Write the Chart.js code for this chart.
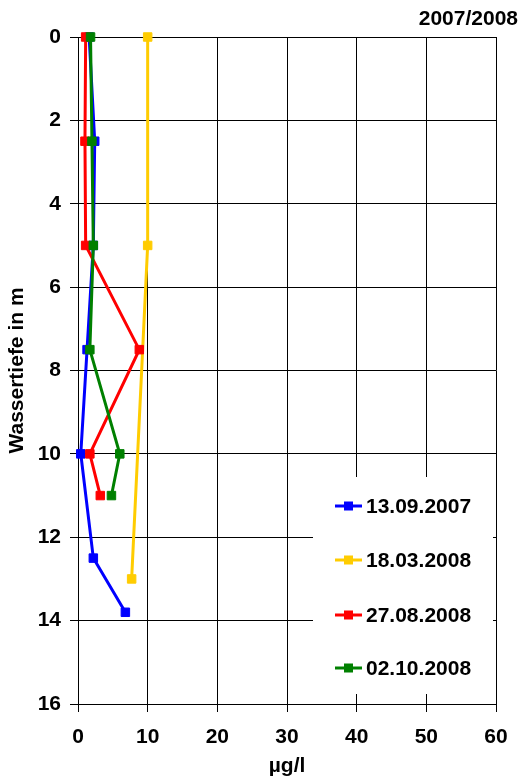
<!DOCTYPE html>
<html>
<head>
<meta charset="utf-8">
<script src="https://cdn.jsdelivr.net/npm/chart.js@4/dist/chart.umd.min.js"></script>
<style>
html,body{margin:0;padding:0;background:#fff;}
canvas{display:block;}
</style>
</head>
<body>
<canvas id="c" width="523" height="783"></canvas>
<script>
const chartTitle = '2007/2008';
const seriesNames = ['13.09.2007', '18.03.2008', '27.08.2008', '02.10.2008'];
const seriesColors = ['#0000FF', '#FFCC00', '#FF0000', '#008000'];
const depthBlue = [0, 2.5, 5, 7.5, 10, 12.5, 13.8];
const valBlue = [1.6, 2.4, 2.2, 1.3, 0.4, 2.2, 6.8];
const depthYellow = [0, 5, 13];
const valYellow = [10, 10, 7.7];
const depthRed = [0, 2.5, 5, 7.5, 10, 11];
const valRed = [1.1, 1.0, 1.1, 8.8, 1.7, 3.2];
const depthGreen = [0, 2.5, 5, 7.5, 10, 11];
const valGreen = [1.8, 2.0, 2.2, 1.7, 6.0, 4.8];
const xTicks = [0, 10, 20, 30, 40, 50, 60];
const yTicks = [0, 2, 4, 6, 8, 10, 12, 14, 16];
const xTitle = 'µg/l';
const yTitle = 'Wassertiefe in m';

const FONT = 'Arial, "Liberation Sans", sans-serif';

function pts(xs, ys) { return xs.map((v, i) => ({x: v, y: ys[i]})); }
const allDepths = [depthBlue, depthYellow, depthRed, depthGreen];
const allVals = [valBlue, valYellow, valRed, valGreen];

const datasets = seriesNames.map((n, i) => ({
  label: n,
  data: pts(allVals[i], allDepths[i]),
  showLine: true,
  clip: false,
  borderColor: seriesColors[i],
  backgroundColor: seriesColors[i],
  borderWidth: 3,
  pointStyle: 'rect',
  pointRadius: 6,
  pointBorderWidth: 1,
  pointBorderColor: seriesColors[i],
  pointBackgroundColor: seriesColors[i],
  order: seriesNames.length - i
}));

const legendPlugin = {
  id: 'customLegend',
  afterDraw(chart) {
    const ctx = chart.ctx;
    ctx.save();
    ctx.fillStyle = '#fff';
    ctx.fillRect(313, 477, 180, 217);
    const ys = [506, 560, 615, 668];
    ctx.font = 'bold 21px ' + FONT;
    ctx.textBaseline = 'middle';
    ctx.textAlign = 'left';
    seriesNames.forEach((n, i) => {
      ctx.strokeStyle = seriesColors[i];
      ctx.lineWidth = 3;
      ctx.beginPath();
      ctx.moveTo(335, ys[i]);
      ctx.lineTo(362, ys[i]);
      ctx.stroke();
      ctx.fillStyle = seriesColors[i];
      ctx.fillRect(344, ys[i] - 4.5, 9, 9);
      ctx.fillStyle = '#000';
      ctx.fillText(n, 366, ys[i] + 1);
    });
    ctx.font = 'bold 21px ' + FONT;
    ctx.textAlign = 'right';
    ctx.fillStyle = '#000';
    ctx.fillText(chartTitle, 518, 19);
    ctx.restore();
  }
};

new Chart(document.getElementById('c'), {
  type: 'scatter',
  data: { datasets },
  options: {
    responsive: false,
    animation: false,
    layout: { padding: { top: 37, right: 27, bottom: 0, left: 0 } },
    plugins: { legend: { display: false }, tooltip: { enabled: false }, title: { display: false } },
    scales: {
      x: {
        type: 'linear', min: 0, max: 60,
        afterBuildTicks: s => { s.ticks = xTicks.map(v => ({value: v})); },
        afterFit: s => { s.height = 79; },
        grid: { color: '#000', lineWidth: 1, tickLength: 8, drawTicks: true },
        border: { color: '#000', width: 1 },
        ticks: { color: '#000', font: { family: FONT, size: 21, weight: 'bold' }, padding: 13, maxRotation: 0 },
        title: { display: true, text: xTitle, color: '#000', font: { family: FONT, size: 21, weight: 'bold' }, padding: { top: 0, bottom: 4 } }
      },
      y: {
        type: 'linear', min: 0, max: 16, reverse: true,
        afterBuildTicks: s => { s.ticks = yTicks.map(v => ({value: v})); },
        afterFit: s => { s.width = 78; },
        grid: { color: '#000', lineWidth: 1, tickLength: 8, drawTicks: true },
        border: { color: '#000', width: 1 },
        ticks: { color: '#000', font: { family: FONT, size: 21, weight: 'bold' }, padding: 9 },
        title: { display: true, text: yTitle, color: '#000', font: { family: FONT, size: 21, weight: 'bold' }, padding: { top: 5, bottom: 0 } }
      }
    }
  },
  plugins: [legendPlugin]
});
</script>
</body>
</html>
